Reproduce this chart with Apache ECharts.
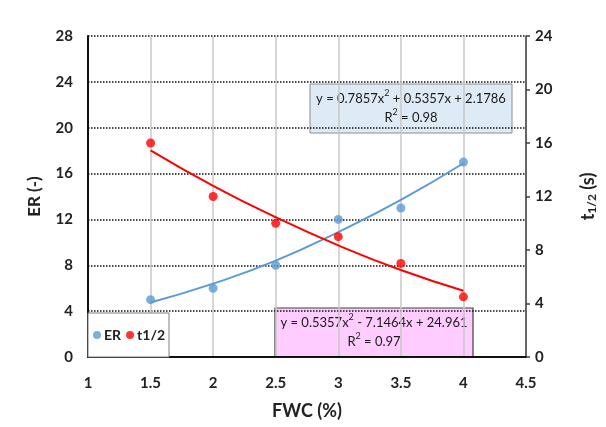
<!DOCTYPE html>
<html>
<head>
<meta charset="utf-8">
<script src="https://cdn.jsdelivr.net/npm/echarts@6/dist/echarts.min.js"></script>
<style>
  html, body { margin: 0; padding: 0; background: #fff; }
  #chart { width: 606px; height: 427px; }
</style>
</head>
<body>
<div id="chart"></div>
<script>
// FWC (%) values on the x axis
const fwc = [1.5, 2, 2.5, 3, 3.5, 4]
// measured points
const erValues = [5, 6, 8, 12, 13, 17]
const halfLifeValues = [16, 12, 10, 9, 7, 4.5]
// trend lines
const erTrend = [4.75, 6.4, 8.4, 10.9, 13.7, 16.9]
const halfLifeTrend = [15.45, 12.8, 10.45, 8.35, 6.5, 4.95]

const erEquation = ['y = 0.7857x{sup|2} + 0.5357x + 2.1786', 'R{sup|2} = 0.98']
const halfLifeEquation = ['y = 0.5357x{sup|2} - 7.1464x + 24.961', 'R{sup|2} = 0.97']

const font = 'Lato, "Open Sans", sans-serif'
const blue = '#5b9bd5'
const red = '#ff0000'

const pairs = (xs, ys) => xs.map((x, i) => [x, ys[i]])

const chart = echarts.init(document.getElementById('chart'))

const eqText = (lines) => ({
  text: lines.join('\n'),
  fontFamily: font,
  fontSize: 13,
  fill: '#1a1a1a',
  align: 'center',
  lineHeight: 19,
  rich: {
    sup: { fontSize: 9, verticalAlign: 'top', lineHeight: 19, padding: [0, 0, 7, 0], fontFamily: font, fill: '#1a1a1a' }
  }
})

const option = {
  animation: false,
  backgroundColor: '#fff',
  grid: { left: 88, right: 68, top: 36, bottom: 70 },
  legend: {
    data: ['ER', 't1/2'],
    left: 88,
    top: 313,
    orient: 'horizontal',
    icon: 'circle',
    itemWidth: 8,
    itemHeight: 8,
    itemGap: 5,
    padding: [15, 4, 15, 5],
    backgroundColor: '#fff',
    borderColor: '#7f7f7f',
    borderWidth: 1,
    textStyle: { fontFamily: font, fontWeight: 'bold', fontSize: 14, color: '#222', padding: [0, 0, 0, -2] },
    z: 10
  },
  xAxis: {
    type: 'value',
    min: 1,
    max: 4.5,
    interval: 0.5,
    name: 'FWC (%)',
    nameLocation: 'middle',
    nameGap: 45,
    nameTextStyle: { fontFamily: font, fontWeight: 'bold', fontSize: 18, color: '#222' },
    axisLine: { show: true, onZero: false, lineStyle: { color: '#111', width: 2 } },
    axisTick: { show: false },
    axisLabel: { fontFamily: font, fontWeight: 'bold', fontSize: 15, color: '#222', margin: 19 },
    splitLine: { show: true, lineStyle: { color: '#c8c8c8', width: 1.5 } }
  },
  yAxis: [
    {
      type: 'value',
      min: 0,
      max: 28,
      interval: 4,
      position: 'left',
      name: 'ER (-)',
      nameLocation: 'middle',
      nameRotate: 90,
      nameGap: 45,
      nameTextStyle: { fontFamily: font, fontWeight: 'bold', fontSize: 17, color: '#222' },
      axisLine: { show: true, lineStyle: { color: '#111', width: 2 } },
      axisTick: { show: false },
      axisLabel: { fontFamily: font, fontWeight: 'bold', fontSize: 15, color: '#222', margin: 15 },
      splitLine: { show: true, lineStyle: { color: '#111', width: 1.5, type: [1.5, 1.5] } }
    },
    {
      type: 'value',
      min: 0,
      max: 24,
      interval: 4,
      position: 'right',
      name: '{t|t}{sub|1/2}{t| (s)}',
      nameLocation: 'middle',
      nameRotate: 90,
      nameGap: 52,
      nameTextStyle: {
        rich: {
          t: { fontFamily: font, fontWeight: 'bold', fontSize: 18, color: '#222' },
          sub: { fontFamily: font, fontWeight: 'bold', fontSize: 12, color: '#222', verticalAlign: 'bottom', padding: [8, 0, 0, 0] }
        }
      },
      axisLine: { show: true, lineStyle: { color: '#404040', width: 1.5 } },
      axisTick: { show: true, length: 4, lineStyle: { color: '#404040', width: 1.5 } },
      axisLabel: { fontFamily: font, fontWeight: 'bold', fontSize: 15, color: '#222', margin: 9 },
      splitLine: { show: false }
    }
  ],
  series: [
    {
      name: 'ER trend',
      type: 'line',
      yAxisIndex: 0,
      data: pairs(fwc, erTrend),
      smooth: true,
      showSymbol: false,
      lineStyle: { color: blue, width: 2 },
      z: 3
    },
    {
      name: 't1/2 trend',
      type: 'line',
      yAxisIndex: 1,
      data: pairs(fwc, halfLifeTrend),
      smooth: true,
      showSymbol: false,
      lineStyle: { color: red, width: 2 },
      z: 3
    },
    {
      name: 'ER',
      type: 'scatter',
      yAxisIndex: 0,
      data: pairs(fwc, erValues),
      symbolSize: 9,
      itemStyle: { color: blue },
      z: 4
    },
    {
      name: 't1/2',
      type: 'scatter',
      yAxisIndex: 1,
      data: pairs(fwc, halfLifeValues),
      symbolSize: 9,
      itemStyle: { color: red },
      z: 4
    }
  ],
  graphic: [
    {
      type: 'group',
      x: 310,
      y: 84,
      z: 20,
      children: [
        { type: 'rect', shape: { x: 0, y: 0, width: 202, height: 49 }, style: { fill: '#deebf7', stroke: '#8c8c8c', lineWidth: 1 } },
        { type: 'text', x: 101, y: 5, style: eqText(erEquation) }
      ]
    },
    {
      type: 'group',
      x: 275,
      y: 308,
      z: 20,
      children: [
        { type: 'rect', shape: { x: 0, y: 0, width: 198, height: 49 }, style: { fill: '#ffccff', stroke: '#404040', lineWidth: 1.2 } },
        { type: 'text', x: 99, y: 5, style: eqText(halfLifeEquation) }
      ]
    }
  ]
}

chart.setOption(option)
</script>
</body>
</html>
